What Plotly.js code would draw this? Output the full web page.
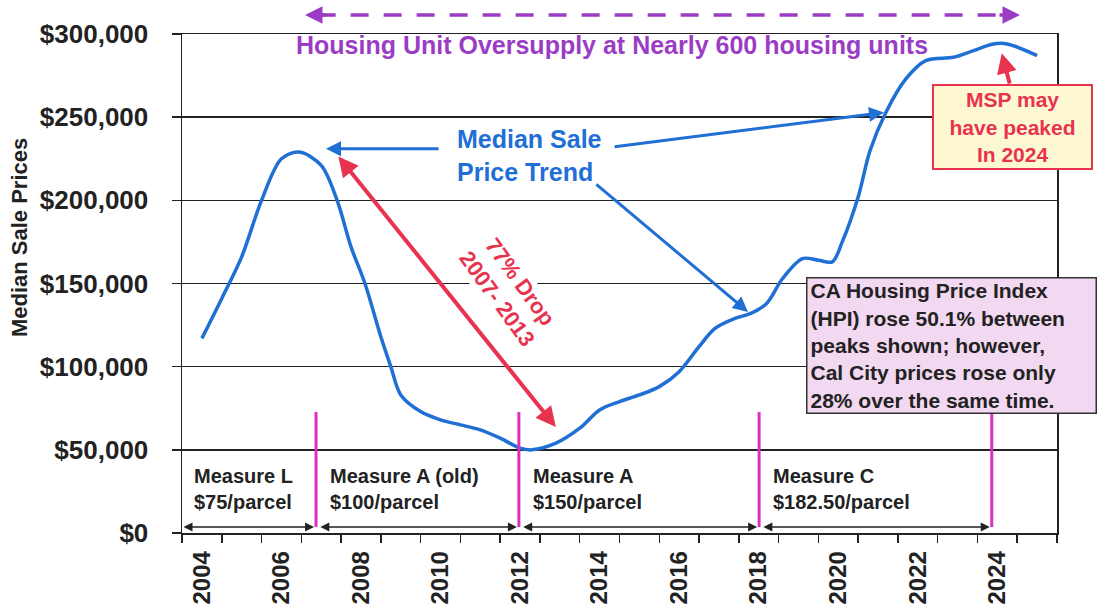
<!DOCTYPE html>
<html>
<head>
<meta charset="utf-8">
<script src="https://cdn.plot.ly/plotly-3.0.1.min.js"></script>
<style>html,body{margin:0;padding:0;background:#fff;}#chart{width:1100px;height:609px;}</style>
</head>
<body>
<div id="chart"></div>
<script>
// ---- data ----
const years = [2004.0, 2004.5, 2005.0, 2005.5, 2006.0, 2006.45, 2007.0, 2007.4, 2007.75, 2008.1, 2008.5, 2008.75, 2009.0, 2009.5, 2010.0, 2010.5, 2011.0, 2011.5, 2012.0, 2012.3, 2012.9, 2013.5, 2014.0, 2014.5, 2015.0, 2015.5, 2016.0, 2016.5, 2016.9, 2017.4, 2017.8, 2018.2, 2018.6, 2019.1, 2019.5, 2019.85, 2020.1, 2020.5, 2020.8, 2021.2, 2021.7, 2022.2, 2022.9, 2023.4, 2023.9, 2024.25, 2025.0];
const prices = [117000, 141000, 166000, 200000, 225000, 229000, 221000, 200000, 172000, 150000, 118000, 100000, 83000, 73000, 68000, 65000, 62000, 57000, 51000, 50000, 54000, 63000, 74000, 79000, 83000, 88000, 97000, 112000, 123000, 129000, 132000, 138000, 153000, 165000, 164000, 163000, 175000, 202000, 230000, 253000, 273000, 284000, 286000, 290000, 294000, 294000, 287000];
const yearTicks = [2004, 2006, 2008, 2010, 2012, 2014, 2016, 2018, 2020, 2022, 2024];
const priceTicks = [0, 50000, 100000, 150000, 200000, 250000, 300000];
const priceLabels = ['$0', '$50,000', '$100,000', '$150,000', '$200,000', '$250,000', '$300,000'];
const measureStarts = [2003.5, 2006.87, 2011.97, 2018.01];
const measureEnds = [2006.87, 2011.97, 2018.01, 2023.86];
const measureNames = ['Measure L', 'Measure A (old)', 'Measure A', 'Measure C'];
const measureFees = ['$75/parcel', '$100/parcel', '$150/parcel', '$182.50/parcel'];

const FONT = 'Liberation Sans, Arial, Helvetica, sans-serif';
const BLUE = '#1f6fd4', RED = '#e8334f', PURPLE = '#9b3dc4', MAGENTA = '#d930c0', INK = '#222222';

const trace = {
  x: years, y: prices, type: 'scatter', mode: 'lines',
  line: {color: BLUE, width: 3.5, shape: 'spline', smoothing: 0.9},
  hoverinfo: 'skip', showlegend: false
};

const shapes = [];
const annotations = [];

// measure separators (magenta) and double arrows + labels
measureEnds.forEach(function (x) {
  shapes.push({type: 'line', xref: 'x', yref: 'y', x0: x, x1: x, y0: 3600, y1: 72700,
    line: {color: MAGENTA, width: 3}});
});
for (let i = 0; i < measureStarts.length; i++) {
  const gap = i === 0 ? 0 : 0.07;
  annotations.push({xref: 'x', yref: 'y', axref: 'x', ayref: 'y',
    x: measureEnds[i] - 0.05, y: 3600, ax: measureStarts[i] + gap, ay: 3600,
    text: '', showarrow: true, arrowhead: 2, startarrowhead: 2, arrowside: 'end+start',
    arrowsize: 1.2, startarrowsize: 1.2, arrowwidth: 1.5, arrowcolor: INK});
  annotations.push({xref: 'x', yref: 'y', x: measureStarts[i] + (i === 0 ? 0.25 : 0.3), y: 26200,
    xanchor: 'left', yanchor: 'middle', align: 'left', showarrow: false,
    text: '<b>' + measureNames[i] + '<br>' + measureFees[i] + '</b>',
    font: {family: FONT, size: 20, color: INK}});
}

// top dashed purple double arrow
shapes.push({type: 'line', xref: 'paper', yref: 'paper', x0: 0.155, x1: 0.945, y0: 1.038, y1: 1.038,
  line: {color: PURPLE, width: 3.5, dash: '18px,15px'}});
annotations.push({xref: 'paper', yref: 'paper', x: 0.1406, y: 1.038, ax: 22, ay: 0,
  text: '', showarrow: true, arrowhead: 2, arrowsize: 1, arrowwidth: 3.5, arrowcolor: PURPLE});
annotations.push({xref: 'paper', yref: 'paper', x: 0.9577, y: 1.038, ax: -22, ay: 0,
  text: '', showarrow: true, arrowhead: 2, arrowsize: 1, arrowwidth: 3.5, arrowcolor: PURPLE});
annotations.push({xref: 'x', yref: 'y', x: 2014.32, y: 293400, showarrow: false,
  text: '<b>Housing Unit Oversupply at Nearly 600 housing units</b>',
  font: {family: FONT, size: 25, color: PURPLE}});

// Median Sale Price Trend label + arrows
annotations.push({xref: 'x', yref: 'y', x: 2010.36, y: 226700, xanchor: 'left', showarrow: false, align: 'left',
  text: '<b>Median Sale<br>Price Trend</b>', font: {family: FONT, size: 25, color: BLUE}});
annotations.push({xref: 'x', yref: 'y', axref: 'x', ayref: 'y', x: 2007.12, y: 231000, ax: 2009.99, ay: 231000,
  text: '', showarrow: true, arrowhead: 2, arrowsize: 1, arrowwidth: 3, arrowcolor: BLUE});
annotations.push({xref: 'x', yref: 'y', axref: 'x', ayref: 'y', x: 2021.15, y: 252800, ax: 2014.34, ay: 232100,
  text: '', showarrow: true, arrowhead: 2, arrowsize: 1, arrowwidth: 3, arrowcolor: BLUE});
annotations.push({xref: 'x', yref: 'y', axref: 'x', ayref: 'y', x: 2017.73, y: 132900, ax: 2013.88, ay: 210400,
  text: '', showarrow: true, arrowhead: 2, arrowsize: 1, arrowwidth: 3, arrowcolor: BLUE});

// red 77% drop arrow and text
annotations.push({xref: 'x', yref: 'y', axref: 'x', ayref: 'y', x: 2012.90, y: 63700, ax: 2007.40, ay: 227300,
  text: '', showarrow: true, arrowhead: 2, startarrowhead: 2, arrowside: 'end+start',
  arrowsize: 1, startarrowsize: 1, arrowwidth: 4, arrowcolor: RED});
annotations.push({xref: 'x', yref: 'y', x: 2011.7, y: 146100, showarrow: false, textangle: 54,
  text: '<b>77% Drop<br>2007- 2013</b>', font: {family: FONT, size: 22, color: RED},
  bgcolor: '#ffffff', borderpad: 0});

// MSP box and arrow
annotations.push({xref: 'x', yref: 'y', axref: 'x', ayref: 'y', x: 2024.11, y: 288400, ax: 2024.32, ay: 269300,
  text: '', showarrow: true, arrowhead: 2, arrowsize: 1, arrowwidth: 4, arrowcolor: RED});
annotations.push({xref: 'x', yref: 'y', x: 2024.37, y: 243800, showarrow: false,
  text: '<b>MSP may<br>have peaked<br>In 2024</b>', font: {family: FONT, size: 21, color: RED},
  bgcolor: '#fdf8d2', bordercolor: RED, borderwidth: 2, borderpad: 2, width: 153, height: 78});

// CA HPI box
annotations.push({xref: 'x', yref: 'y', x: 2022.85, y: 112700, showarrow: false, align: 'left',
  text: '<b>CA Housing Price Index<br>(HPI) rose 50.1% between<br>peaks shown; however,<br>Cal City prices rose only<br>28% over the same time.</b>',
  font: {family: FONT, size: 21, color: INK},
  bgcolor: '#f2d8f0', bordercolor: '#333333', borderwidth: 1.5, borderpad: 3, width: 282, height: 128});

// y-axis title (placed as rotated text to match its offset position)
annotations.push({xref: 'paper', yref: 'paper', x: -0.1863, y: 0.593, xanchor: 'center', yanchor: 'middle',
  showarrow: false, textangle: -90,
  text: '<b>Median Sale Prices</b>', font: {family: FONT, size: 22, color: INK}});

const layout = {
  width: 1100, height: 609,
  margin: {l: 182, r: 43, t: 34, b: 76},
  paper_bgcolor: '#ffffff', plot_bgcolor: '#ffffff',
  font: {family: FONT, color: INK},
  showlegend: false,
  xaxis: {
    range: [2003.5, 2025.5], tickmode: 'array', tickvals: yearTicks, ticktext: yearTicks.map(String),
    tickangle: -90, ticks: '', showgrid: false, zeroline: false,
    showline: true, mirror: true, linecolor: INK, linewidth: 1.5,
    tickfont: {family: FONT, size: 24, color: INK, weight: 700},
    ticklabelstandoff: 7,
    minor: {tickmode: 'linear', tick0: 2003.5, dtick: 1, ticks: 'outside', ticklen: 8, tickwidth: 1.5, tickcolor: INK, showgrid: false}
  },
  yaxis: {
    range: [0, 300000], tickmode: 'array', tickvals: priceTicks, ticktext: priceLabels,
    ticks: 'outside', ticklen: 9, tickwidth: 1.5, tickcolor: INK,
    showgrid: true, gridcolor: INK, gridwidth: 1.5, zeroline: false,
    showline: true, mirror: true, linecolor: INK, linewidth: 1.5,
    tickfont: {family: FONT, size: 26, color: INK, weight: 700},
    ticklabelstandoff: 18
  },
  shapes: shapes,
  annotations: annotations
};

Plotly.newPlot('chart', [trace], layout, {staticPlot: true, displayModeBar: false});
</script>
</body>
</html>
